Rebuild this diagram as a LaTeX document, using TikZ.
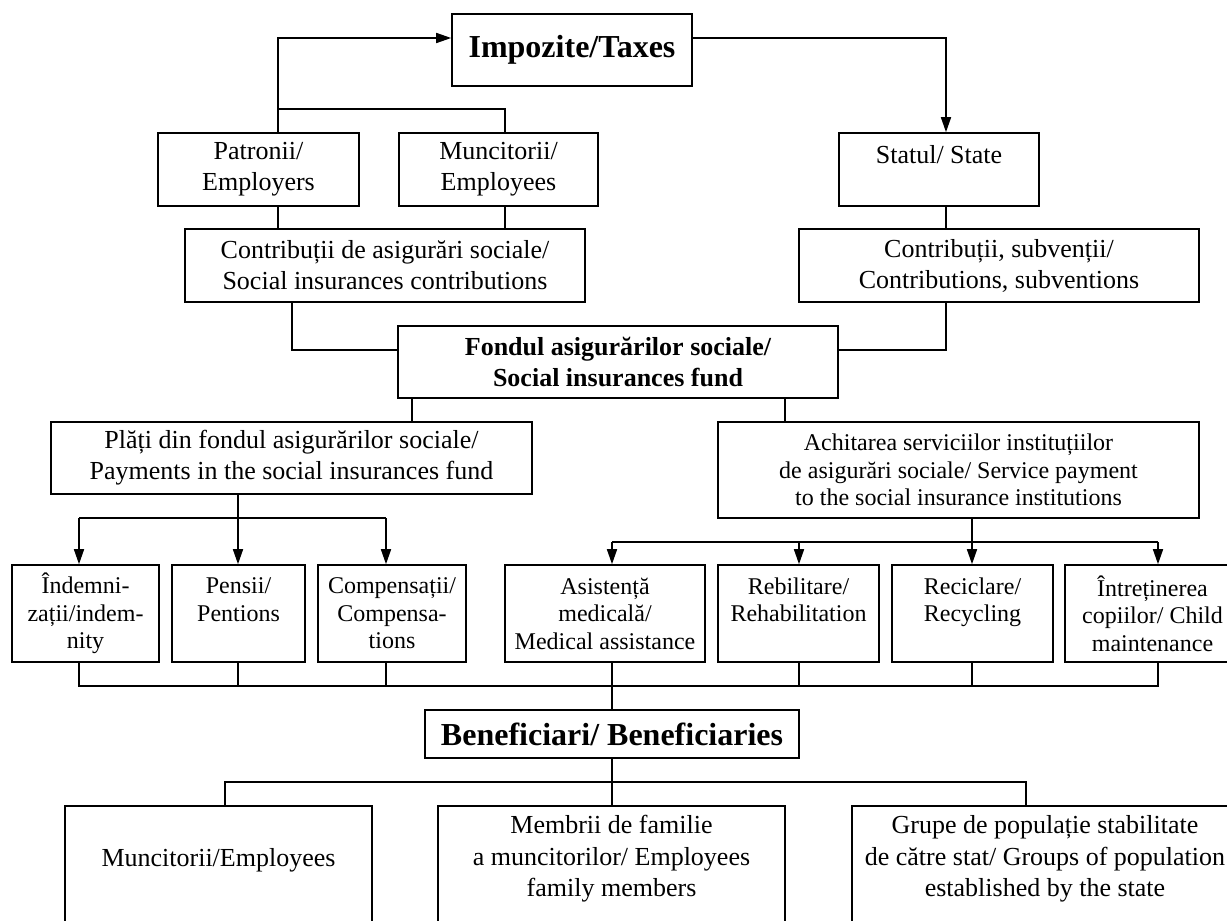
\documentclass[tikz,border=0pt]{standalone}
\usepackage{fontspec}
\setmainfont{Liberation Serif}
\usetikzlibrary{arrows.meta}
\begin{document}
\begin{tikzpicture}[x=1pt,y=-1pt,
  box/.style={draw, line width=1.6pt, inner sep=0pt, align=center, font=\fontsize{26}{31}\selectfont},
  sbox/.style={box, font=\fontsize{24}{27.5}\selectfont},
  bbox/.style={box, font=\bfseries\fontsize{26}{31}\selectfont},
  tbox/.style={box, font=\bfseries\fontsize{32}{38}\selectfont},
  txt/.style={inner sep=0pt, align=center, font=\fontsize{26}{31.5}\selectfont},
  conn/.style={line width=1.6pt},
  arr/.style={conn, -{Triangle[length=15pt,width=10pt]}}]
\useasboundingbox (0,0) rectangle (1227,921);
\clip (0,0) rectangle (1227,921);
% nodes
\node[tbox, minimum width=240, minimum height=72] (imp) at (572,50) {Impozite/Taxes};
\node[box, minimum width=201, minimum height=73] (pat) at (258.5,169.5) {Patronii/\\Employers};
\node[box, minimum width=199, minimum height=73] (mun) at (498.5,169.5) {Muncitorii/\\Employees};
\node[box, minimum width=200, minimum height=73] (stat) at (939,169.5) {Statul/ State\\\mbox{}};
\node[box, minimum width=400, minimum height=73] (con1) at (385,265.5) {Contribuții de asigurări sociale/\\Social insurances contributions};
\node[box, minimum width=400, minimum height=73] (con2) at (999,265.5) {Contribuții, subvenții/\\Contributions, subventions};
\node[bbox, minimum width=440, minimum height=72] (fond) at (618,362) {Fondul asigurărilor sociale/\\Social insurances fund};
\node[box, minimum width=481, minimum height=72] (plati) at (291.5,458) {Plăți din fondul asigurărilor sociale/\\Payments in the social insurances fund};
\node[sbox, minimum width=481, minimum height=96] (achit) at (958.5,470) {Achitarea serviciilor instituțiilor\\de asigurări sociale/ Service payment\\to the social insurance institutions};
\node[sbox, minimum width=147, minimum height=97] (ind) at (85.5,613.5) {Îndemni-\\zații/indem-\\nity};
\node[sbox, minimum width=133, minimum height=97] (pen) at (238.5,613.5) {Pensii/\\Pentions\\\mbox{}};
\node[sbox, minimum width=148, minimum height=97] (comp) at (392,613.5) {Compensații/\\Compensa-\\tions};
\node[sbox, minimum width=200, minimum height=97] (asis) at (605,613.5) {Asistență\\medicală/\\Medical assistance};
\node[sbox, minimum width=161, minimum height=97] (reb) at (798.5,613.5) {Rebilitare/\\Rehabilitation\\\mbox{}};
\node[sbox, minimum width=161, minimum height=97] (rec) at (972.5,613.5) {Reciclare/\\Recycling\\\mbox{}};
\node[sbox, minimum width=175, minimum height=97] (intr) at (1152.5,613.5) {Întreținerea\\copiilor/ Child\\maintenance};
\node[tbox, minimum width=374, minimum height=48] (ben) at (612,734) {Beneficiari/ Beneficiaries};
\node[draw, line width=1.6pt, minimum width=307, minimum height=134, inner sep=0pt] (b1) at (218.5,873) {};
\node[draw, line width=1.6pt, minimum width=347, minimum height=134, inner sep=0pt] (b2) at (611.5,873) {};
\node[draw, line width=1.6pt, minimum width=386, minimum height=134, inner sep=0pt] (b3) at (1045,873) {};
\node[txt] (t1) at (218.5,860) {Muncitorii/Employees};
\node[txt] (t2) at (611.5,859) {Membrii de familie\\a muncitorilor/ Employees\\family members};
\node[txt] (t3) at (1045,859) {Grupe de populație stabilitate\\de către stat/ Groups of population\\established by the state};
% junction coordinates
\coordinate (tA) at (278,38);
\coordinate (tB) at (278,109);
\coordinate (tC) at (505,109);
\coordinate (tD) at (946,38);
\coordinate (fL) at (292,350);
\coordinate (fR) at (946,350);
\coordinate (p0) at (412,0);
\coordinate (a0) at (785,0);
\coordinate (pb) at (238,518);
\coordinate (pl) at (79,518);
\coordinate (pr) at (386,518);
\coordinate (ab) at (972,542);
\coordinate (al) at (612,542);
\coordinate (am) at (799,542);
\coordinate (ar) at (1158,542);
\coordinate (c1) at (79,686);
\coordinate (c2) at (238,686);
\coordinate (c3) at (386,686);
\coordinate (c4) at (612,686);
\coordinate (c5) at (799,686);
\coordinate (c6) at (972,686);
\coordinate (c7) at (1158,686);
\coordinate (d0) at (612,782);
\coordinate (dl) at (225,782);
\coordinate (dr) at (1026,782);
% connectors
\draw[arr] (pat.north -| tA) -- (tA) -- (imp.west |- tA);
\draw[conn] (tB) -- (tC) -- (mun.north -| tC);
\draw[conn] (pat.south -| tA) -- (con1.north -| tA);
\draw[conn] (mun.south -| tC) -- (con1.north -| tC);
\draw[arr] (imp.east |- tD) -- (tD) -- (stat.north -| tD);
\draw[conn] (stat.south -| tD) -- (con2.north -| tD);
\draw[conn] (con1.south -| fL) -- (fL) -- (fond.west |- fL);
\draw[conn] (con2.south -| fR) -- (fR) -- (fond.east |- fR);
\draw[conn] (fond.south -| p0) -- (plati.north -| p0);
\draw[conn] (fond.south -| a0) -- (achit.north -| a0);
\draw[conn] (plati.south -| pb) -- (pb);
\draw[conn] (pl) -- (pr);
\draw[arr] (pl) -- (ind.north -| pl);
\draw[arr] (pb) -- (pen.north -| pb);
\draw[arr] (pr) -- (comp.north -| pr);
\draw[conn] (achit.south -| ab) -- (ab);
\draw[conn] (al) -- (ar);
\draw[arr] (al) -- (asis.north -| al);
\draw[arr] (am) -- (reb.north -| am);
\draw[arr] (ab) -- (rec.north -| ab);
\draw[arr] (ar) -- (intr.north -| ar);
\draw[conn] (ind.south -| c1) -- (c1) -- (c7) -- (intr.south -| c7);
\draw[conn] (pen.south -| c2) -- (c2);
\draw[conn] (comp.south -| c3) -- (c3);
\draw[conn] (reb.south -| c5) -- (c5);
\draw[conn] (rec.south -| c6) -- (c6);
\draw[conn] (asis.south -| c4) -- (ben.north -| c4);
\draw[conn] (ben.south -| d0) -- (b2.north -| d0);
\draw[conn] (b1.north -| dl) -- (dl) -- (dr) -- (b3.north -| dr);
\end{tikzpicture}
\end{document}
